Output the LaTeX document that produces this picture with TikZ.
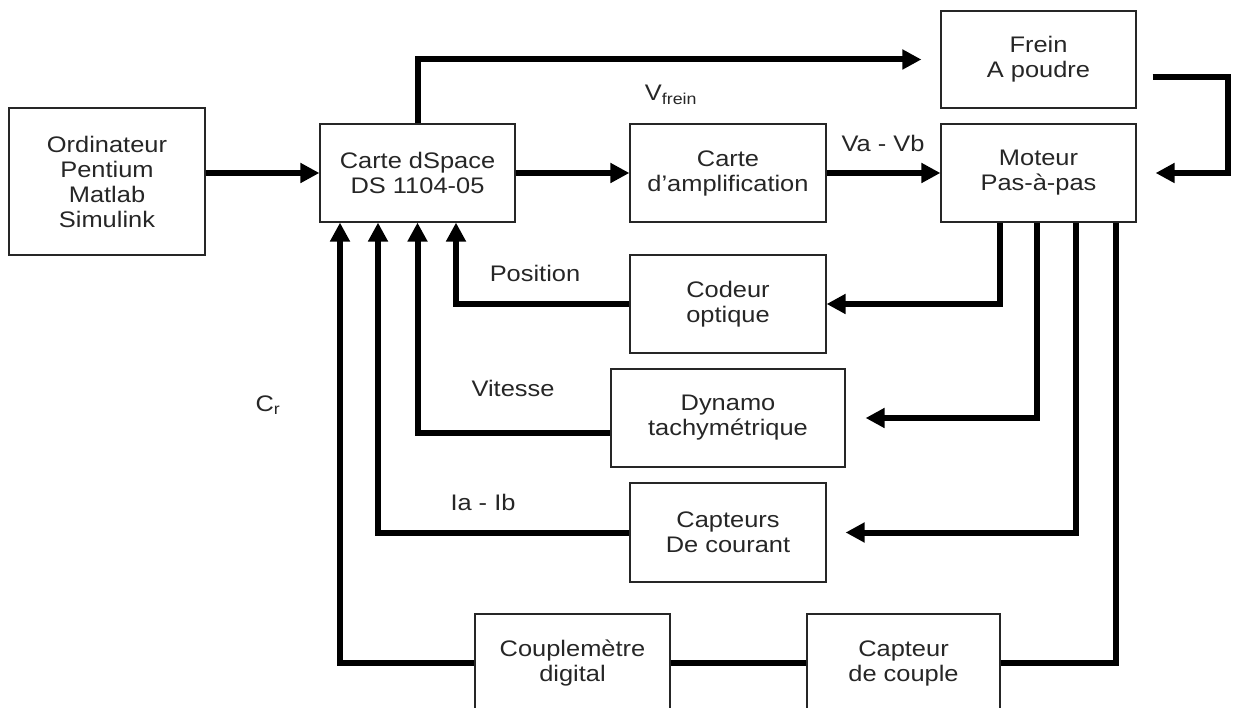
\documentclass[tikz,border=0pt]{standalone}
\usepackage{fontspec}
\setmainfont{Liberation Sans}[FakeStretch=1.13]
\usetikzlibrary{arrows.meta}
\begin{document}
\begin{tikzpicture}[x=1pt,y=-1pt,
  box/.style={draw=black!85, line width=1.2pt, rectangle, inner sep=0pt, align=center,
    font=\fontsize{22.5}{25}\selectfont, text=black!85},
  wire/.style={line width=6pt, line join=miter, black},
  arr/.style={wire, -{Triangle[length=19pt,width=19pt]}},
  lbl/.style={font=\fontsize{22.5}{25}\selectfont, text=black!85, inner sep=0pt}]
\useasboundingbox (0,0) rectangle (1235,708);

\node[box, minimum width=196pt, minimum height=147pt] (ord) at (107,181.5) {Ordinateur\\Pentium\\Matlab\\Simulink};
\node[box, minimum width=195pt, minimum height=98pt] (dsp) at (417.5,173) {Carte dSpace\\DS 1104-05};
\node[box, minimum width=196pt, minimum height=98pt] (amp) at (728,173) {Carte\\d'amplification};
\node[box, minimum width=195pt, minimum height=98pt] (mot) at (1038.5,173) {Moteur\\Pas-à-pas};
\node[box, minimum width=195pt, minimum height=97pt] (fre) at (1038.5,59.5) {Frein\\A poudre};
\node[box, minimum width=196pt, minimum height=98pt] (cod) at (728,304) {Codeur\\optique};
\node[box, minimum width=234pt, minimum height=98pt] (dyn) at (728,418) {Dynamo\\tachymétrique};
\node[box, minimum width=196pt, minimum height=99pt] (cou) at (728,532.5) {Capteurs\\De courant};
\node[box, minimum width=193pt, minimum height=98pt] (cpl) at (903.5,663) {Capteur\\de couple};
\node[box, minimum width=195pt, minimum height=98pt] (cm) at (572.5,663) {Couplemètre\\digital};

\node[lbl] (lvf) at (671,95) {V\textsubscript{frein}};
\node[lbl] (lva) at (883,143) {Va - Vb};
\node[lbl] (lpo) at (535,273) {Position};
\node[lbl] (lvi) at (513,388) {Vitesse};
\node[lbl] (lia) at (483,502) {Ia - Ib};
\node[lbl] (lcr) at (268,405) {C\textsubscript{r}};

\coordinate (fr) at (1228,77);

\draw[arr] (ord.east |- dsp.west) -- (dsp.west);
\draw[arr] (dsp) -- (amp);
\draw[arr] (amp) -- (mot);
\draw[arr, shorten >=19pt] (dsp.north) |- (fre.west);
\draw[arr] ([xshift=16pt,yshift=-17.5pt]fre.east) -- (fr) |- ([xshift=19pt]mot.east);

\draw[arr] ([xshift=-38.5pt]mot.south) |- (cod.east);
\draw[arr] ([xshift=-1.5pt]mot.south) |- ([xshift=20pt]dyn.east);
\draw[arr] ([xshift=37.5pt]mot.south) |- ([xshift=19pt]cou.east);
\draw[wire] ([xshift=77.5pt]mot.south) |- (cpl.east);
\draw[wire] (cpl.west) -- (cm.east);

\draw[arr] (cod.west) -| ([xshift=38.5pt]dsp.south);
\draw[arr] ([yshift=-15pt]dyn.west) -| (dsp.south);
\draw[arr] (cou.west) -| ([xshift=-39.5pt]dsp.south);
\draw[arr] (cm.west) -| ([xshift=-77.5pt]dsp.south);
\end{tikzpicture}
\end{document}
